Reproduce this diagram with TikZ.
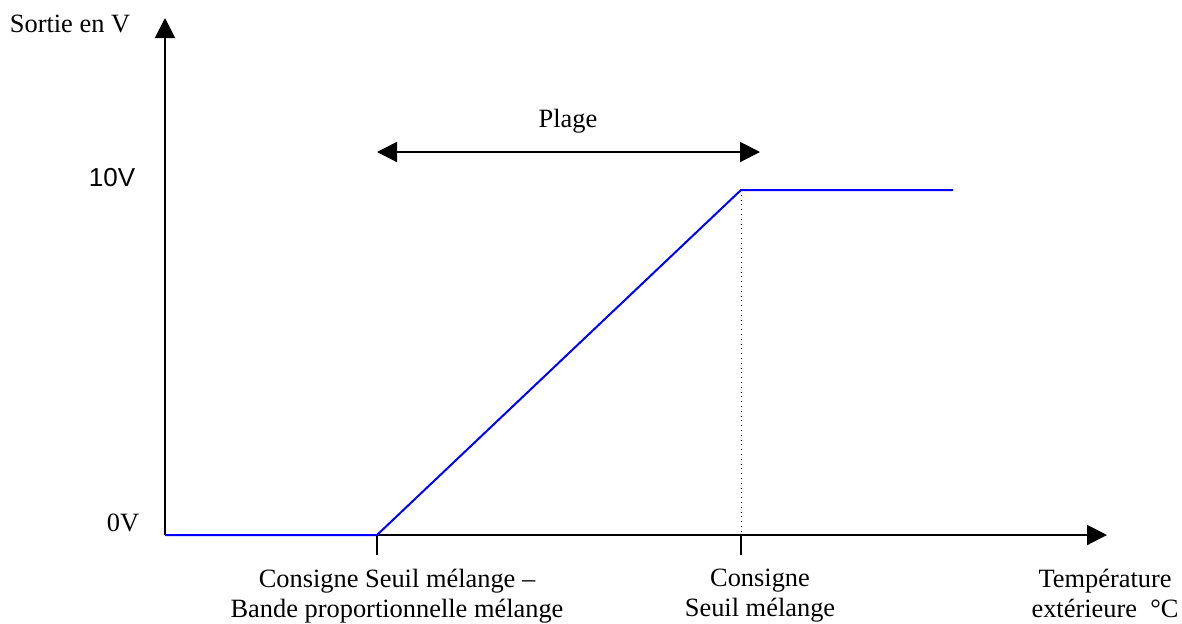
\documentclass[tikz,border=0pt]{standalone}
\usepackage{fontspec}
\setmainfont{Liberation Serif}
\newfontfamily\arialfont{Liberation Sans}
\usetikzlibrary{arrows.meta}
\begin{document}
\begin{tikzpicture}[x=0.5pt,y=-0.5pt]
    \tikzstyle{axis} = [line width=1pt,-{Triangle[length=10pt,width=10pt]}]
    \tikzstyle{span} = [line width=1pt,{Triangle[length=10pt,width=10pt]}-{Triangle[length=10pt,width=10pt]}]
    \tikzstyle{curve} = [blue,line width=1pt]
    \tikzstyle{txt} = [font=\fontsize{13.2}{15}\selectfont,inner sep=0pt,align=center]
    \useasboundingbox (0,0) rectangle (1182,623);
    \coordinate (origin) at (165,535);
    \coordinate (xend) at (1107,535);
    \coordinate (yend) at (165,18);
    \coordinate (low) at (377,535);
    \coordinate (high) at (741,190);
    \coordinate (flat) at (953,190);
    \coordinate (plageleft) at (377,152);
    \coordinate (plageright) at (760,152);
    % axes
    \draw [axis] (origin) -- (xend);
    \draw [axis] (origin) -- (yend);
    \draw [line width=1pt] (low) -- ++(0,20);
    \draw [line width=1pt] (high |- origin) -- ++(0,20);
    \draw [dotted,thin] (high) -- (high |- origin);
    % output curve
    \draw [curve] (origin) -- (low) -- (high) -- (flat);
    \draw [span] (plageleft) -- (plageright);
    % labels
    \node (sortie)[txt] at (70,24) {Sortie en V};
    \node (dixv)[txt,font=\arialfont\fontsize{13}{15}\selectfont] at (112,178) {10V};
    \node (zerov)[txt] at (123,523) {0V};
    \node (plage)[txt] at (568,121) {Plage};
    \node (seuilbande)[txt,anchor=north] at (397,569) {Consigne Seuil mélange –\\Bande proportionnelle mélange};
    \node (seuil)[txt,anchor=north] at (760,569) {Consigne\\Seuil mélange};
    \node (temp)[txt,anchor=north] at (1105,569) {Température\\extérieure~~°C};
\end{tikzpicture}
\end{document}
